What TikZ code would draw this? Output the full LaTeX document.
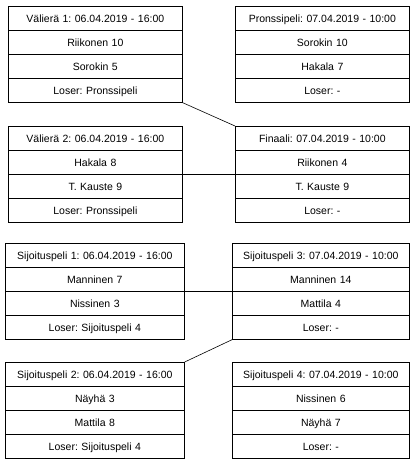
\documentclass[tikz,border=0pt]{standalone}
\usepackage{fontspec}
\setmainfont{Liberation Sans}
\usetikzlibrary{shapes.multipart,positioning}
\newcommand\rowstrut{\rule[-7.9pt]{0pt}{23.3pt}}
\frenchspacing

\begin{document}
\begin{tikzpicture}[
    x=1pt, y=1pt,
    game/.style={rectangle split, rectangle split parts=4, draw, line width=0.7pt,
        inner xsep=0pt, inner ysep=0pt, text width=#1, align=center,
        font=\fontsize{10.5}{12}\selectfont\rowstrut, anchor=north west},
    game/.default=174pt,
    link/.style={line width=0.6pt}
]
\useasboundingbox (0,0) rectangle (416,-462);

\node[game] (semi1) at (8,-6) {V\"alier\"a 1: 06.04.2019 - 16:00
    \nodepart{two} Riikonen 10 \nodepart{three} Sorokin 5 \nodepart{four} Loser: Pronssipeli};
\node[game] (bronze) at (235,-6) {Pronssipeli: 07.04.2019 - 10:00
    \nodepart{two} Sorokin 10 \nodepart{three} Hakala 7 \nodepart{four} Loser: -};
\node[game] (semi2) at (8,-126) {V\"alier\"a 2: 06.04.2019 - 16:00
    \nodepart{two} Hakala 8 \nodepart{three} T. Kauste 9 \nodepart{four} Loser: Pronssipeli};
\node[game] (final) at (235,-126) {Finaali: 07.04.2019 - 10:00
    \nodepart{two} Riikonen 4 \nodepart{three} T. Kauste 9 \nodepart{four} Loser: -};

\node[game=179pt] (place1) at (5,-243) {Sijoituspeli 1: 06.04.2019 - 16:00
    \nodepart{two} Manninen 7 \nodepart{three} Nissinen 3 \nodepart{four} Loser: Sijoituspeli 4};
\node[game=177pt] (place3) at (232,-243) {Sijoituspeli 3: 07.04.2019 - 10:00
    \nodepart{two} Manninen 14 \nodepart{three} Mattila 4 \nodepart{four} Loser: -};
\node[game=179pt] (place2) at (5,-362) {Sijoituspeli 2: 06.04.2019 - 16:00
    \nodepart{two} N\"ayh\"a 3 \nodepart{three} Mattila 8 \nodepart{four} Loser: Sijoituspeli 4};
\node[game=177pt] (place4) at (232,-362) {Sijoituspeli 4: 07.04.2019 - 10:00
    \nodepart{two} Nissinen 6 \nodepart{three} N\"ayh\"a 7 \nodepart{four} Loser: -};

\draw[link] (semi1.south east) -- (final.north west);
\draw[link] (semi2.east) -- (final.west);
\draw[link] (place1.east) -- (place3.west);
\draw[link] (place3.south west) -- (place2.north east);

\end{tikzpicture}
\end{document}
